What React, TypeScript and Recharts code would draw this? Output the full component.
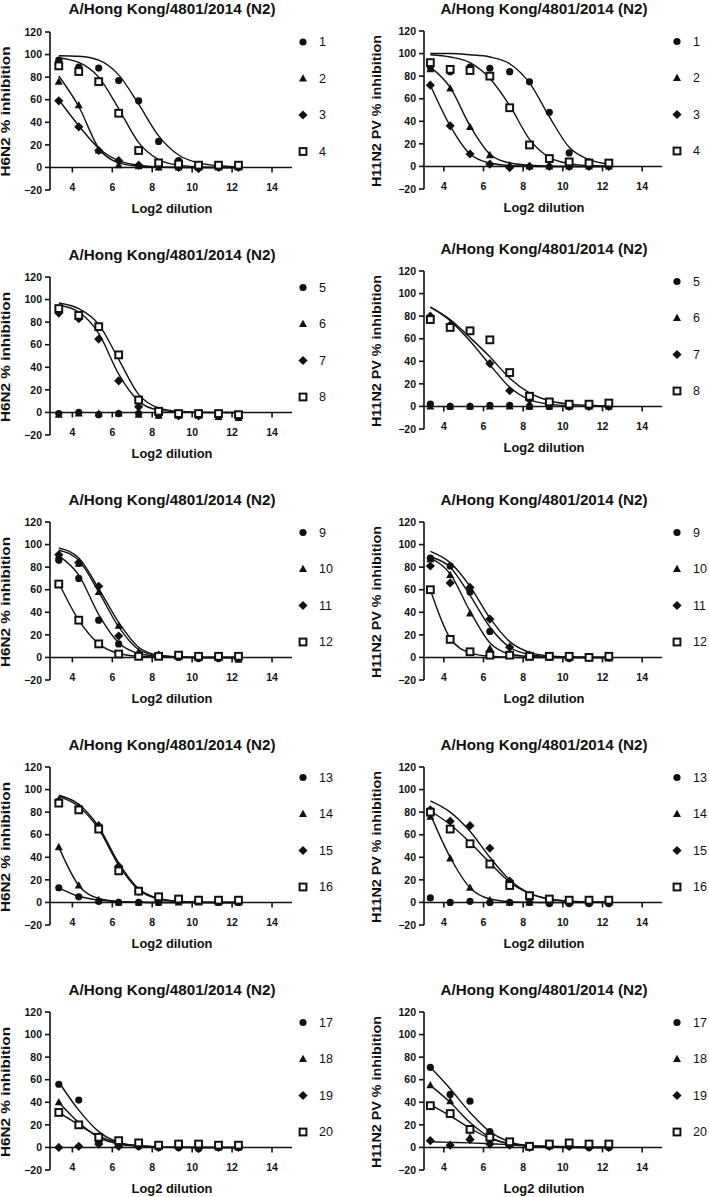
import React from 'react'
import {
  ComposedChart,
  Scatter,
  Line,
  XAxis,
  YAxis,
  ReferenceLine,
  ReferenceDot,
} from 'recharts'

// log2 of the serum dilution (1:10, 1:20, ... 1:5120)
const LOG2_DILUTION = [3.32, 4.32, 5.32, 6.32, 7.32, 8.32, 9.32, 10.32, 11.32, 12.32]
const X_TICKS = [4, 6, 8, 10, 12, 14]
const Y_TICKS = [-20, 0, 20, 40, 60, 80, 100, 120]

const TITLE = 'A/Hong Kong/4801/2014 (N2)'
const X_LABEL = 'Log2 dilution'
const H6_LABEL = 'H6N2 % inhibition'
const H11_LABEL = 'H11N2 PV % inhibition'

// H6N2 panels: measured points and fitted curves
const H6_PTS_1 = [95, 89, 88, 77, 59, 23, 6, 2, 1, 1]
const H6_PTS_2 = [76, 55, 15, 2, 1, 0, 0, 0, 0, 0]
const H6_PTS_3 = [59, 36, 15, 6, 2, 1, 0, -1, 0, 0]
const H6_PTS_4 = [90, 85, 76, 48, 15, 4, 3, 2, 2, 2]
const H6_FIT_1 = [99, 98.5, 95, 82, 56, 28, 11, 4, 1.5, 0.5]
const H6_FIT_2 = [81, 54, 17, 4, 1, 0.3, 0, 0, 0, 0]
const H6_FIT_3 = [60, 37, 17, 6, 2, 0.5, 0.2, 0, 0, 0]
const H6_FIT_4 = [97, 93, 80, 52, 22, 7, 2, 0.5, 0, 0]

const H6_PTS_5 = [-1, 0, -2, -1, -1, -2, -2, -2, -2, -2]
const H6_PTS_6 = [-2, -1, -1, -1, -2, -3, -3, -3, -4, -5]
const H6_PTS_7 = [88, 83, 65, 28, 5, -2, -3, -3, -3, -3]
const H6_PTS_8 = [92, 86, 76, 51, 11, 1, -1, -1, -1, -2]
const H6_FIT_7 = [95, 89, 70, 34, 10, 2, 0.5, 0, 0, 0]
const H6_FIT_8 = [97, 92, 78, 47, 16, 4, 1, 0.2, 0, 0]

const H6_PTS_9 = [86, 70, 33, 12, 1, 1, 0, -1, -1, -1]
const H6_PTS_10 = [90, 83, 58, 28, 5, 2, 1, 0, 0, -2]
const H6_PTS_11 = [91, 84, 63, 19, 3, 2, 1, 0, 0, 0]
const H6_PTS_12 = [65, 33, 12, 3, 1, 1, 2, 1, 1, 1]
const H6_FIT_9 = [90, 73, 38, 13, 3.5, 1, 0.3, 0, 0, 0]
const H6_FIT_10 = [97, 88, 61, 31, 9, 2, 0.5, 0, 0, 0]
const H6_FIT_11 = [95, 86, 58, 27, 7, 1.5, 0.4, 0, 0, 0]
const H6_FIT_12 = [66, 33, 12, 3.5, 1, 0.3, 0, 0, 0, 0]

const H6_PTS_13 = [13, 5, 1, 0, 0, 0, 1, 1, 0, 0]
const H6_PTS_14 = [49, 15, 2, 0, 0, 0, 0, 0, 0, 0]
const H6_PTS_15 = [90, 84, 68, 32, 10, 5, 3, 2, 1, 1]
const H6_PTS_16 = [88, 82, 65, 28, 10, 5, 3, 2, 2, 2]
const H6_FIT_13 = [13, 5.5, 2, 0.7, 0.2, 0, 0, 0, 0, 0]
const H6_FIT_14 = [49, 15, 3.5, 0.8, 0.2, 0, 0, 0, 0, 0]
const H6_FIT_15 = [95, 87, 67, 35, 12, 3.5, 1, 0.3, 0, 0]
const H6_FIT_16 = [94, 85, 65, 33, 11, 3, 0.9, 0.2, 0, 0]

const H6_PTS_17 = [56, 42, 4, 2, 1, 0, 0, -1, 0, 0]
const H6_PTS_18 = [40, 20, 8, 3, 2, 1, 1, 0, 0, 0]
const H6_PTS_19 = [0, 1, 3, 1, 1, 0, 0, -1, 0, 0]
const H6_PTS_20 = [31, 20, 9, 6, 4, 2, 3, 3, 2, 2]
const H6_FIT_17 = [58, 33, 14, 4.5, 1.5, 0.5, 0.2, 0, 0, 0]
const H6_FIT_18 = [40, 22, 9, 3, 1, 0.3, 0, 0, 0, 0]
const H6_FIT_20 = [31, 20, 10, 4, 1.5, 0.5, 0.2, 0, 0, 0]

// H11N2 pseudovirus panels
const H11_PTS_1 = [88, 84, 88, 87, 84, 75, 48, 12, 4, 1]
const H11_PTS_2 = [86, 69, 35, 10, 1, 0, 0, 0, 0, 0]
const H11_PTS_3 = [72, 36, 11, 2, -1, 0, 0, 0, 0, 0]
const H11_PTS_4 = [92, 86, 85, 80, 52, 19, 7, 4, 3, 3]
const H11_FIT_1 = [100, 100, 99, 97, 91, 74, 44, 17, 6, 2]
const H11_FIT_2 = [88, 70, 36, 11, 3, 1, 0.2, 0, 0, 0]
const H11_FIT_3 = [72, 36, 11, 3, 0.8, 0.2, 0, 0, 0, 0]
const H11_FIT_4 = [99, 97, 92, 78, 54, 24, 8, 2.5, 0.8, 0.3]

const H11_PTS_5 = [2, 0, 0, 1, 1, 0, 0, 0, 0, 0]
const H11_PTS_6 = [0, 0, 0, 0, 0, 0, 0, 0, 0, 0]
const H11_PTS_7 = [80, 72, 67, 38, 14, 6, 2, 0, 0, 0]
const H11_PTS_8 = [77, 70, 67, 59, 30, 9, 4, 2, 2, 3]
const H11_FIT_7 = [88, 76, 58, 37, 17, 6, 2, 0.5, 0.2, 0]
const H11_FIT_8 = [88, 77, 61, 44, 25, 12, 5, 2, 1, 0.3]

const H11_PTS_9 = [88, 81, 58, 23, 3, 1, 0, -1, 0, 0]
const H11_PTS_10 = [87, 73, 39, 8, 2, 0, 0, 0, 0, -1]
const H11_PTS_11 = [81, 66, 62, 34, 9, 2, 1, 0, 0, 0]
const H11_PTS_12 = [60, 16, 5, 2, 2, 1, 1, 1, 0, 1]
const H11_FIT_9 = [89, 80, 55, 27, 9, 2.5, 0.7, 0.2, 0, 0]
const H11_FIT_10 = [88, 74, 41, 13, 3, 0.8, 0.2, 0, 0, 0]
const H11_FIT_11 = [94, 84, 63, 35, 14, 4.5, 1.3, 0.4, 0.1, 0]
const H11_FIT_12 = [60, 17, 4, 1, 0.2, 0, 0, 0, 0, 0]

const H11_PTS_13 = [4, 0, 1, 0, 0, 0, -1, -1, -1, -1]
const H11_PTS_14 = [76, 39, 13, 2, 0, 0, 0, 0, 0, 0]
const H11_PTS_15 = [82, 72, 68, 48, 19, 5, 3, 1, 1, 0]
const H11_PTS_16 = [80, 65, 52, 34, 15, 6, 3, 2, 2, 2]
const H11_FIT_14 = [78, 40, 13, 3, 0.7, 0.2, 0, 0, 0, 0]
const H11_FIT_15 = [90, 80, 63, 40, 20, 8, 3, 1, 0.4, 0.1]
const H11_FIT_16 = [81, 69, 53, 35, 18, 8, 3, 1, 0.4, 0.1]

const H11_PTS_17 = [71, 47, 41, 14, 4, 0, 1, 1, 0, 0]
const H11_PTS_18 = [55, 41, 9, 5, 3, 1, 1, 2, 1, 1]
const H11_PTS_19 = [6, 2, 7, 3, 2, 0, 1, 1, 0, 0]
const H11_PTS_20 = [37, 30, 16, 9, 5, 1, 3, 4, 3, 3]
const H11_FIT_17 = [71, 52, 31, 14, 5, 1.5, 0.5, 0.2, 0, 0]
const H11_FIT_18 = [55, 40, 22, 9, 3, 1, 0.3, 0, 0, 0]
const H11_FIT_19 = [5, 4.5, 4, 3.3, 2.5, 1.6, 1, 0.6, 0.3, 0.2]
const H11_FIT_20 = [38, 28, 17, 8, 3.5, 1.2, 0.4, 0.1, 0, 0]

type Series = number[] | null

interface PanelDef {
  col: 0 | 1
  row: number
  ids: number[]
  pts: number[][]
  fits: Series[]
}

const PANELS: PanelDef[] = [
  { col: 0, row: 0, ids: [1, 2, 3, 4], pts: [H6_PTS_1, H6_PTS_2, H6_PTS_3, H6_PTS_4], fits: [H6_FIT_1, H6_FIT_2, H6_FIT_3, H6_FIT_4] },
  { col: 1, row: 0, ids: [1, 2, 3, 4], pts: [H11_PTS_1, H11_PTS_2, H11_PTS_3, H11_PTS_4], fits: [H11_FIT_1, H11_FIT_2, H11_FIT_3, H11_FIT_4] },
  { col: 0, row: 1, ids: [5, 6, 7, 8], pts: [H6_PTS_5, H6_PTS_6, H6_PTS_7, H6_PTS_8], fits: [null, null, H6_FIT_7, H6_FIT_8] },
  { col: 1, row: 1, ids: [5, 6, 7, 8], pts: [H11_PTS_5, H11_PTS_6, H11_PTS_7, H11_PTS_8], fits: [null, null, H11_FIT_7, H11_FIT_8] },
  { col: 0, row: 2, ids: [9, 10, 11, 12], pts: [H6_PTS_9, H6_PTS_10, H6_PTS_11, H6_PTS_12], fits: [H6_FIT_9, H6_FIT_10, H6_FIT_11, H6_FIT_12] },
  { col: 1, row: 2, ids: [9, 10, 11, 12], pts: [H11_PTS_9, H11_PTS_10, H11_PTS_11, H11_PTS_12], fits: [H11_FIT_9, H11_FIT_10, H11_FIT_11, H11_FIT_12] },
  { col: 0, row: 3, ids: [13, 14, 15, 16], pts: [H6_PTS_13, H6_PTS_14, H6_PTS_15, H6_PTS_16], fits: [H6_FIT_13, H6_FIT_14, H6_FIT_15, H6_FIT_16] },
  { col: 1, row: 3, ids: [13, 14, 15, 16], pts: [H11_PTS_13, H11_PTS_14, H11_PTS_15, H11_PTS_16], fits: [null, H11_FIT_14, H11_FIT_15, H11_FIT_16] },
  { col: 0, row: 4, ids: [17, 18, 19, 20], pts: [H6_PTS_17, H6_PTS_18, H6_PTS_19, H6_PTS_20], fits: [H6_FIT_17, H6_FIT_18, null, H6_FIT_20] },
  { col: 1, row: 4, ids: [17, 18, 19, 20], pts: [H11_PTS_17, H11_PTS_18, H11_PTS_19, H11_PTS_20], fits: [H11_FIT_17, H11_FIT_18, H11_FIT_19, H11_FIT_20] },
]

// layout of the two columns (pixel positions of the y axis, plot sizes)
const COLS = [
  { axisX: 50, xMin: 2.88, plotW: 242, yLabel: H6_LABEL, yLabelLen: 130, yLabelDx: 44 },
  { axisX: 424, xMin: 3.0, plotW: 238, yLabel: H11_LABEL, yLabelLen: 152, yLabelDx: 47 },
]
const ROW_TOPS = [
  [31.5, 277, 522, 767, 1012],
  [31, 271, 522, 767, 1012],
]
const PLOT_H = 158
const Y_AXIS_W = 45
const FONT = '"Liberation Sans", Arial, sans-serif'
const INK = '#111'

function Marker({ kind, cx, cy }: { kind: number; cx: number; cy: number }) {
  if (kind === 0) return <circle cx={cx} cy={cy} r={3.6} fill={INK} />
  if (kind === 1)
    return (
      <polygon
        points={`${cx},${cy - 4.3} ${cx + 4},${cy + 3} ${cx - 4},${cy + 3}`}
        fill={INK}
      />
    )
  if (kind === 2)
    return (
      <polygon
        points={`${cx},${cy - 4.6} ${cx + 4.6},${cy} ${cx},${cy + 4.6} ${cx - 4.6},${cy}`}
        fill={INK}
      />
    )
  return (
    <rect
      x={cx - 3.4}
      y={cy - 3.4}
      width={6.8}
      height={6.8}
      fill='#fff'
      stroke={INK}
      strokeWidth={2}
    />
  )
}

function toPoints(values: number[]) {
  return values.map((y, i) => ({ x: LOG2_DILUTION[i], y }))
}

function XTick({ x, y, payload }: { x?: number; y?: number; payload?: { value: number } }) {
  return (
    <text
      x={x}
      y={(y ?? 0) - 3.5}
      textAnchor='middle'
      dominantBaseline='central'
      fontSize={10.5}
      fontWeight={700}
      fontFamily={FONT}
      fill={INK}>
      {payload?.value}
    </text>
  )
}

function Panel({ def }: { def: PanelDef }) {
  const col = COLS[def.col]
  const top = ROW_TOPS[def.col][def.row]
  const chartW = Y_AXIS_W + col.plotW + 10
  const chartH = 10 + PLOT_H + 30
  const midX = col.axisX + col.plotW / 2

  return (
    <>
      <div
        style={{
          position: 'absolute',
          left: col.axisX - Y_AXIS_W,
          top: top - 10,
          width: chartW,
          height: chartH,
        }}>
        <ComposedChart
          width={chartW}
          height={chartH}
          margin={{ top: 10, right: 10, bottom: 0, left: 0 }}>
          <XAxis
            type='number'
            dataKey='x'
            domain={[col.xMin, 15]}
            allowDataOverflow
            ticks={X_TICKS}
            height={30}
            axisLine={false}
            tickLine={false}
            tickSize={0}
            tickMargin={0}
            tick={<XTick />}
          />
          <YAxis
            type='number'
            dataKey='y'
            domain={[-20, 120]}
            allowDataOverflow
            ticks={Y_TICKS}
            width={Y_AXIS_W}
            axisLine={{ stroke: INK, strokeWidth: 1.6 }}
            tickLine={{ stroke: INK, strokeWidth: 1.6 }}
            tickSize={5}
            tickMargin={3}
            tick={{ fontSize: 10.5, fontWeight: 700, fill: INK, fontFamily: FONT }}
            tickFormatter={(v: number) => (v < 0 ? `\u2212${-v}` : `${v}`)}
          />
          <ReferenceLine y={0} stroke={INK} strokeWidth={1.6} />
          {X_TICKS.map((t) => (
            <ReferenceDot
              key={`tick-${t}`}
              x={t}
              y={0}
              r={0}
              shape={(p: { cx?: number; cy?: number }) => (
                <line
                  x1={p.cx}
                  y1={p.cy}
                  x2={p.cx}
                  y2={(p.cy ?? 0) + 5}
                  stroke={INK}
                  strokeWidth={1.6}
                />
              )}
            />
          ))}
          {def.fits.map((fit, k) =>
            fit ? (
              <Line
                key={`fit-${k}`}
                data={toPoints(fit)}
                dataKey='y'
                type='monotone'
                stroke={INK}
                strokeWidth={1.4}
                dot={false}
                activeDot={false}
                legendType='none'
                isAnimationActive={false}
              />
            ) : null
          )}
          {def.pts.map((pts, k) => (
            <Scatter
              key={`pts-${k}`}
              data={toPoints(pts)}
              dataKey='y'
              isAnimationActive={false}
              shape={(p: { cx?: number; cy?: number }) => (
                <Marker kind={k} cx={p.cx ?? 0} cy={p.cy ?? 0} />
              )}
            />
          ))}
        </ComposedChart>
      </div>
      <svg
        width={709}
        height={1197}
        style={{ position: 'absolute', left: 0, top: 0, pointerEvents: 'none' }}>
        <text
          x={midX + 1}
          y={top - 23}
          textAnchor='middle'
          dominantBaseline='central'
          fontSize={15}
          fontWeight={700}
          fontFamily={FONT}
          fill={INK}
          textLength={207}
          lengthAdjust='spacingAndGlyphs'>
          {TITLE}
        </text>
        <text
          x={midX + 1}
          y={top + PLOT_H + 19}
          textAnchor='middle'
          dominantBaseline='central'
          fontSize={12.5}
          fontWeight={700}
          fontFamily={FONT}
          fill={INK}
          textLength={81}
          lengthAdjust='spacingAndGlyphs'>
          {X_LABEL}
        </text>
        <text
          transform={`translate(${col.axisX - col.yLabelDx}, ${top + 80}) rotate(-90)`}
          textAnchor='middle'
          dominantBaseline='central'
          fontSize={12.5}
          fontWeight={700}
          fontFamily={FONT}
          fill={INK}
          textLength={col.yLabelLen}
          lengthAdjust='spacingAndGlyphs'>
          {col.yLabel}
        </text>
        {def.ids.map((id, k) => {
          const ly = top + 10.5 + k * 36.5
          return (
            <g key={`leg-${id}`}>
              <Marker kind={k} cx={col.axisX + 253} cy={ly} />
              <text
                x={col.axisX + 269}
                y={ly}
                dominantBaseline='central'
                fontSize={12.5}
                fontFamily={FONT}
                fill={INK}>
                {id}
              </text>
            </g>
          )
        })}
      </svg>
    </>
  )
}

export default function App() {
  return (
    <div
      style={{
        position: 'absolute',
        left: 0,
        top: 0,
        width: 709,
        height: 1197,
        background: '#fff',
        overflow: 'hidden',
      }}>
      {PANELS.map((p) => (
        <Panel key={`${p.col}-${p.row}`} def={p} />
      ))}
    </div>
  )
}
